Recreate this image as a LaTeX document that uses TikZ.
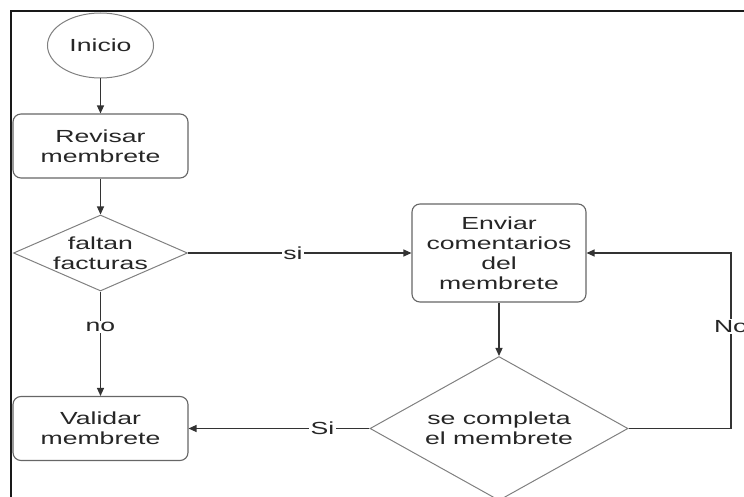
\documentclass[tikz,border=0pt]{standalone}
\usepackage{fontspec}
\setmainfont[FakeStretch=1.52]{Liberation Sans}
\usetikzlibrary{shapes.geometric,arrows.meta}
\begin{document}
\begin{tikzpicture}[x=1pt,y=-1pt,
  every node/.style={font=\fontsize{17.5}{20}\selectfont, text=black!85},
  proc/.style={draw=black!60, line width=1.1pt, rounded corners=8pt, minimum width=175pt, align=center, inner sep=0pt},
  term/.style={draw=black!50, line width=1pt, ellipse, minimum width=106pt, minimum height=65pt, inner sep=0pt},
  decision/.style={draw=black!50, line width=1pt, diamond, inner sep=0pt},
  dtext/.style={align=center, inner sep=0pt},
  lbl/.style={fill=white, inner sep=1.5pt, align=center},
  flow/.style={draw=black!80, line width=1.2pt, -{Triangle[length=8pt,width=7pt]}},
]
\useasboundingbox (0,0) rectangle (744,497);
% page frame
\draw[line width=2pt, black!90] (11,497) -- (11,11) -- (744,11);

% nodes
\node[term] (inicio) at (100.5,45.5) {Inicio};
\node[proc, minimum height=64pt] (revisar) at (100.5,146) {Revisar\\membrete};
\node[decision, minimum width=174pt, minimum height=76pt] (faltan) at (100.5,253) {};
\node[dtext] (faltanT) at (faltan) {faltan\\facturas};
\node[proc, minimum width=174pt, minimum height=98pt] (enviar) at (499,253) {Enviar\\comentarios\\del\\membrete};
\node[proc, minimum height=64pt] (validar) at (100.5,428.5) {Validar\\membrete};
\node[decision, minimum width=258pt, minimum height=144pt] (completa) at (499,428.5) {};
\node[dtext] (completaT) at (completa) {se completa\\el membrete};
\coordinate (noBajo) at (731,428.5);
\coordinate (noAlto) at (731,253);

% connectors
\draw[flow] (inicio) -- (revisar);
\draw[flow] (revisar) -- (faltan);
\draw[flow] (faltan) -- node[lbl, pos=0.47] (siA) {si} (enviar);
\draw[flow] (faltan) -- node[lbl, pos=0.34] (noA) {no} (validar);
\draw[flow] (enviar) -- (completa);
\draw[flow] (completa) -- node[lbl, pos=0.26] (siB) {Si} (validar);
\draw[flow] (completa.east) -- (noBajo) -- node[lbl, pos=0.58] (noB) {No} (noAlto) -- (enviar.east);
\end{tikzpicture}
\end{document}
